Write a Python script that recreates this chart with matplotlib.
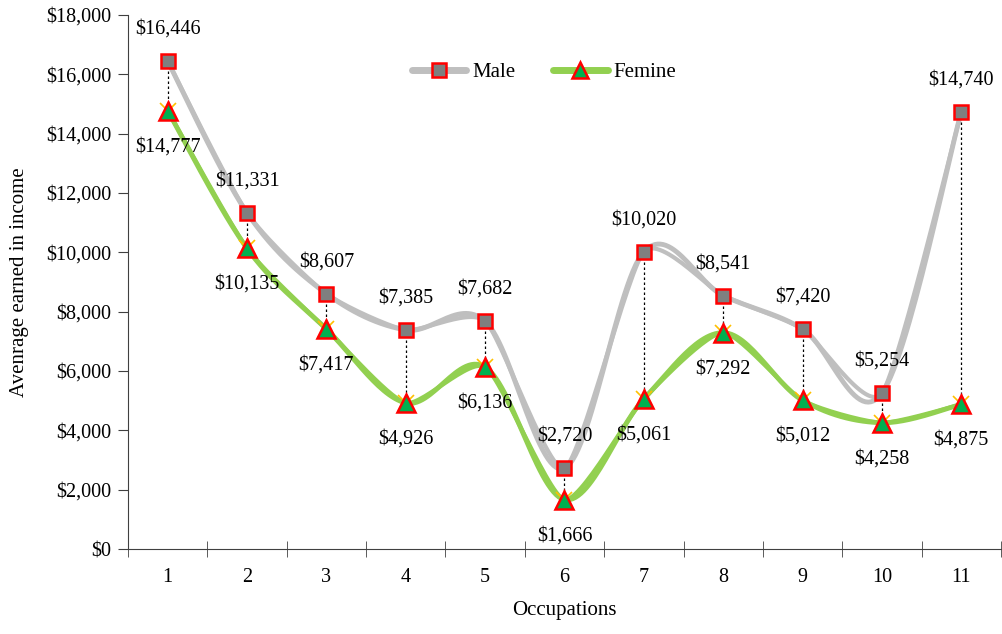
import numpy as np
import matplotlib.pyplot as plt
from matplotlib.ticker import FuncFormatter

plt.rcParams['font.family'] = ['Liberation Serif', 'DejaVu Serif']

# Data
occupations = [1, 2, 3, 4, 5, 6, 7, 8, 9, 10, 11]
male = [16446, 11331, 8607, 7385, 7682, 2720, 10020, 8541, 7420, 5254, 14740]
femine = [14777, 10135, 7417, 4926, 6136, 1666, 5061, 7292, 5012, 4258, 4875]


def smooth(x, y, k=1/6, n=30):
    # Catmull-Rom style bezier curve through the points (like Excel's smoothed line)
    x = np.asarray(x, float)
    y = np.asarray(y, float)
    px = np.concatenate([[x[0]], x, [x[-1]]])
    py = np.concatenate([[y[0]], y, [y[-1]]])
    t = np.linspace(0, 1, n)
    xs, ys = [], []
    for i in range(1, len(px) - 2):
        p0 = np.array([px[i], py[i]])
        p1 = np.array([px[i + 1], py[i + 1]])
        c1 = p0 + (p1 - np.array([px[i - 1], py[i - 1]])) * k
        c2 = p1 - (np.array([px[i + 2], py[i + 2]]) - p0) * k
        b = ((1 - t) ** 3)[:, None] * p0 + (3 * (1 - t) ** 2 * t)[:, None] * c1 \
            + (3 * (1 - t) * t ** 2)[:, None] * c2 + (t ** 3)[:, None] * p1
        xs.append(b[:, 0])
        ys.append(b[:, 1])
    return np.concatenate(xs), np.concatenate(ys)


fig = plt.figure(figsize=(10.03, 6.34), dpi=100)
ax = fig.add_axes([0.1276, 0.134, 0.8704, 0.8423])

gray = '#BFBFBF'
green = '#92D050'

# doubled smoothed strands
for k, lw in [(1/6, 3.5), (0.1, 3)]:
    sx, sy = smooth(occupations, male, k)
    ax.plot(sx, sy, color=gray, lw=lw, solid_capstyle='round', zorder=2)
    sx, sy = smooth(occupations, femine, k)
    ax.plot(sx, sy, color=green, lw=lw, solid_capstyle='round', zorder=2)

# drop lines
for x, m, f in zip(occupations, male, femine):
    ax.plot([x, x], [m, f], color='black', lw=0.9, ls=(0, (2, 2)), zorder=3)

ax.plot(occupations, femine, ls='none', marker='x', ms=11, mew=1.2,
        color='#FFC000', zorder=3)
ax.plot(occupations, male, ls='none', marker='s', ms=10, mfc='#7F7F7F',
        mec='#FF0000', mew=1.8, zorder=4)
ax.plot(occupations, femine, ls='none', marker='^', ms=13, mfc='#00B050',
        mec='#FF0000', mew=1.8, zorder=4)

# legend handles
h1, = ax.plot([], [], color=gray, lw=5, marker='s', ms=10, mfc='#7F7F7F',
              mec='#FF0000', mew=1.8, solid_capstyle='round')
h2, = ax.plot([], [], color=green, lw=5, marker='^', ms=11, mfc='#00B050',
              mec='#FF0000', mew=1.8, solid_capstyle='round')
ax.legend([h1, h2], ['Male', 'Femine'], loc='center', bbox_to_anchor=(0.477, 0.893),
          ncol=2, frameon=False, fontsize=15, handlelength=2.6,
          columnspacing=1.8, handletextpad=0.3)

# data labels
for x, m, f in zip(occupations, male, femine):
    ax.annotate(f'${m:,}', (x, m), xytext=(0, 23), textcoords='offset points',
                ha='center', va='center', fontsize=14.5, zorder=5)
    ax.annotate(f'${f:,}', (x, f), xytext=(0, -26), textcoords='offset points',
                ha='center', va='center', fontsize=14.5, zorder=5)

ax.set_xlim(0.5, 11.5)
ax.set_ylim(0, 18000)
ax.set_yticks(range(0, 18001, 2000))
ax.yaxis.set_major_formatter(FuncFormatter(lambda v, p: f'${int(v):,}'))
ax.set_xticks(occupations)
ax.set_xticks(np.arange(0.5, 11.6, 1), minor=True)
ax.tick_params(axis='x', which='major', length=0, pad=14, labelsize=14.5)
ax.tick_params(axis='x', which='minor', length=12, direction='inout', color='#404040')
ax.tick_params(axis='y', length=7, direction='out', color='#404040', labelsize=14.5, pad=5)

for s in ['top', 'right']:
    ax.spines[s].set_visible(False)
ax.spines['left'].set_color('#404040')
ax.spines['bottom'].set_color('#404040')

ax.set_xlabel('Occupations', fontsize=15, labelpad=10)
ax.set_ylabel('Avenrage earned in income', fontsize=15, labelpad=12)

fig.savefig('out.png', dpi=100)
